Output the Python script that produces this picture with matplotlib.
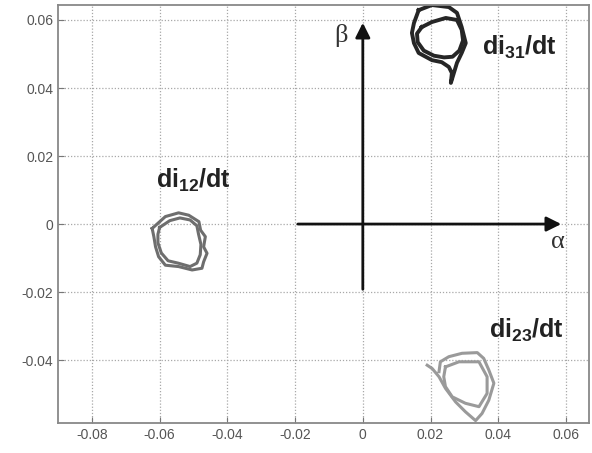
import numpy as np
import matplotlib
matplotlib.use("Agg")
from matplotlib import pyplot as plt

plt.rcParams['font.family'] = ['Liberation Sans', 'DejaVu Sans']
plt.rcParams['mathtext.fontset'] = 'custom'
plt.rcParams['mathtext.rm'] = 'Liberation Sans'
plt.rcParams['mathtext.bf'] = 'Liberation Sans:bold'

# trajectory of di12/dt (two passes, data units)
di12_x1 = [-0.0622, -0.0583, -0.0544, -0.0514, -0.0484, -0.0479, -0.0465, -0.0470, -0.0460,
           -0.0470, -0.0475, -0.0504, -0.0544, -0.0583, -0.0603, -0.0612, -0.0617, -0.0622]
di12_y1 = [-0.0013, 0.0022, 0.0033, 0.0026, 0.0007, -0.0018, -0.0037, -0.0067, -0.0086,
           -0.0111, -0.0130, -0.0135, -0.0125, -0.0121, -0.0096, -0.0067, -0.0037, -0.0013]
di12_x2 = [-0.0600, -0.0570, -0.0540, -0.0510, -0.0490, -0.0485, -0.0478, -0.0480,
           -0.0490, -0.0510, -0.0545, -0.0575, -0.0595, -0.0605, -0.0605, -0.0600]
di12_y2 = [-0.0010, 0.0010, 0.0018, 0.0012, -0.0005, -0.0030, -0.0060, -0.0090,
           -0.0115, -0.0125, -0.0115, -0.0108, -0.0085, -0.0055, -0.0030, -0.0010]

# trajectory of di31/dt
di31_x1 = [0.0165, 0.0204, 0.0254, 0.0278, 0.0292, 0.0304, 0.0292, 0.0278, 0.0260, 0.0263,
           0.0254, 0.0233, 0.0204, 0.0165, 0.0151, 0.0145, 0.0151, 0.0165]
di31_y1 = [0.0629, 0.0644, 0.0638, 0.0621, 0.0579, 0.0532, 0.0503, 0.0474, 0.0415, 0.0444,
           0.0462, 0.0476, 0.0482, 0.0503, 0.0532, 0.0562, 0.0591, 0.0629]
di31_x2 = [0.0174, 0.0204, 0.0245, 0.0278, 0.0292, 0.0296, 0.0285, 0.0265, 0.0240,
           0.0210, 0.0180, 0.0162, 0.0160, 0.0174]
di31_y2 = [0.0579, 0.0594, 0.0606, 0.0600, 0.0571, 0.0540, 0.0510, 0.0492, 0.0490,
           0.0495, 0.0510, 0.0535, 0.0560, 0.0579]

# trajectory of di23/dt
di23_x1 = [0.0190, 0.0205, 0.0225, 0.0244, 0.0274, 0.0303, 0.0333, 0.0352, 0.0372, 0.0387,
           0.0372, 0.0357, 0.0338, 0.0293, 0.0254, 0.0229, 0.0225]
di23_y1 = [-0.0415, -0.0425, -0.0449, -0.0483, -0.0523, -0.0552, -0.0578, -0.0557, -0.0518,
           -0.0468, -0.0429, -0.0395, -0.0378, -0.0380, -0.0390, -0.0405, -0.0434]
di23_x2 = [0.0244, 0.0284, 0.0343, 0.0367, 0.0367, 0.0343, 0.0303, 0.0264, 0.0244, 0.0239, 0.0244]
di23_y2 = [-0.0420, -0.0405, -0.0405, -0.0449, -0.0498, -0.0537, -0.0527, -0.0508, -0.0478,
           -0.0449, -0.0420]

xticks = [-0.08, -0.06, -0.04, -0.02, 0, 0.02, 0.04, 0.06]
yticks = [-0.04, -0.02, 0, 0.02, 0.04, 0.06]

fig = plt.figure(figsize=(5.92, 4.53), dpi=100)
ax = fig.add_axes([0.098, 0.0662, 0.897, 0.9227])

ax.plot(di12_x1, di12_y1, color='#6e6e6e', lw=2.2)
ax.plot(di12_x2, di12_y2, color='#6e6e6e', lw=2.2)
ax.plot(di31_x1, di31_y1, color='#262626', lw=2.8)
ax.plot(di31_x2, di31_y2, color='#262626', lw=2.8)
ax.plot(di23_x1, di23_y1, color='#9a9a9a', lw=2.2)
ax.plot(di23_x2, di23_y2, color='#9a9a9a', lw=2.2)

# alpha / beta axes
ax.annotate('', xy=(0.0594, 0), xytext=(-0.02, 0),
            arrowprops=dict(arrowstyle='-|>', color='#111111', lw=2, mutation_scale=22))
ax.annotate('', xy=(0, 0.060), xytext=(0, -0.02),
            arrowprops=dict(arrowstyle='-|>', color='#111111', lw=2, mutation_scale=22))
ax.text(0.0577, -0.0052, '\u03b1', fontsize=19, family='Liberation Serif',
        color='#333333', ha='center', va='center')
ax.text(-0.0065, 0.0555, '\u03b2', fontsize=19, family='Liberation Serif',
        color='#333333', ha='center', va='center')

ax.text(-0.0499, 0.0129, r'di$_{\mathbf{12}}$/dt', fontsize=18, fontweight='bold',
        color='#222222', ha='center', va='center')
ax.text(0.0461, 0.0518, r'di$_{\mathbf{31}}$/dt', fontsize=18, fontweight='bold',
        color='#222222', ha='center', va='center')
ax.text(0.0482, -0.0312, r'di$_{\mathbf{23}}$/dt', fontsize=18, fontweight='bold',
        color='#222222', ha='center', va='center')

ax.set_xlim(-0.09, 0.0668)
ax.set_ylim(-0.0585, 0.0644)
ax.set_xticks(xticks)
ax.set_yticks(yticks)
ax.set_xticklabels([f'{t:g}' for t in xticks])
ax.set_yticklabels([f'{t:g}' for t in yticks])
ax.grid(True, linestyle=(0, (1, 1.5)), color='#a8a8a8', lw=0.9)
ax.tick_params(direction='in', length=4, colors='#777777', labelcolor='#555555', labelsize=10)
for s in ax.spines.values():
    s.set_color('#888888')
    s.set_linewidth(1.3)

fig.savefig('out.png', dpi=100)
